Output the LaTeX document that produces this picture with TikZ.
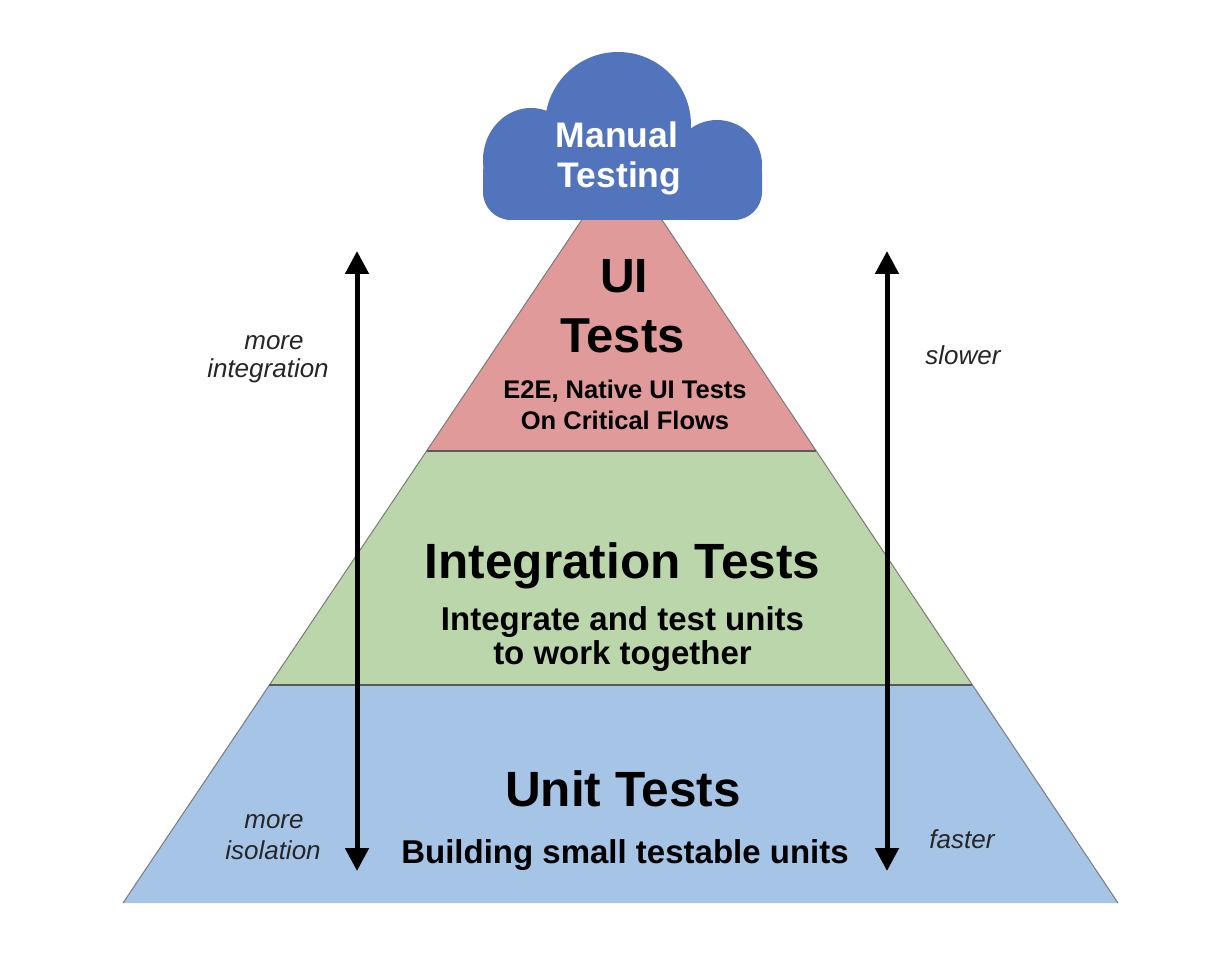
\documentclass[tikz,border=0pt]{standalone}
\usepackage{fontspec}
\setmainfont{Liberation Sans}
\usetikzlibrary{arrows.meta,calc}
\definecolor{cloudblue}{HTML}{5274BC}
\definecolor{uipink}{HTML}{E09A9A}
\definecolor{intgreen}{HTML}{BCD6AC}
\definecolor{unitblue}{HTML}{A6C4E6}
\definecolor{edgegray}{HTML}{5A5A5A}
\definecolor{labelgray}{HTML}{262626}
\tikzset{
  txt/.style={anchor=base,inner sep=0pt,outer sep=0pt,font=\bfseries\fontsize{#1}{#1}\selectfont},
  side/.style={anchor=base,inner sep=0pt,outer sep=0pt,text=labelgray,font=\itshape\fontsize{26}{26}\selectfont},
  bandline/.style={draw=edgegray,line width=1.6pt},
  edgeline/.style={draw=edgegray!80,line width=1pt},
  bigarrow/.style={line width=5pt,{Triangle[length=23pt,width=23pt]}-{Triangle[length=23pt,width=23pt]}}
}
\begin{document}
\begin{tikzpicture}[x=1pt,y=-1pt]
\useasboundingbox (0,0) rectangle (1232,960);
\fill[white] (0,0) rectangle (1232,960);
% pyramid corners
\coordinate (apex) at (622,160);
\coordinate (bl) at (123,903);
\coordinate (br) at (1118,903);
\coordinate (l1) at ($(apex)!0.3917!(bl)$);
\coordinate (r1) at ($(apex)!0.3917!(br)$);
\coordinate (l2) at ($(apex)!0.7066!(bl)$);
\coordinate (r2) at ($(apex)!0.7066!(br)$);
% bands
\fill[uipink] (apex) -- (l1) -- (r1) -- cycle;
\fill[intgreen] (l1) -- (l2) -- (r2) -- (r1) -- cycle;
\fill[unitblue] (l2) -- (bl) -- (br) -- (r2) -- cycle;
\draw[edgeline] (apex) -- (bl);
\draw[edgeline] (apex) -- (br);
\draw[bandline] (l1) -- (r1);
\draw[bandline] (l2) -- (r2);
% cloud
\fill[cloudblue] (618,125) circle[radius=73];
\fill[cloudblue] (531,160) ellipse[x radius=48,y radius=52];
\fill[cloudblue] (717,165) circle[radius=45];
\fill[cloudblue,rounded corners=28pt] (483,145) rectangle (762,220);
\node[txt=35.5,text=white] (man1) at (617,148) {Manual};
\node[txt=35.5,text=white] (man2) at (619.5,188) {Testing};
% UI band text
\node[txt=48] (ui1) at (624,292) {UI};
\node[txt=49] (ui2) at (622.5,352) {Tests};
\node[txt=25.5] (ui3) at (625,398) {E2E, Native UI Tests};
\node[txt=25.5] (ui4) at (625,429) {On Critical Flows};
% integration band
\node[txt=49.5] (it1) at (622.5,578) {Integration Tests};
\node[txt=33] (it2) at (622.5,630) {Integrate and test units};
\node[txt=33] (it3) at (622.5,664) {to work together};
% unit band
\node[txt=49.5] (un1) at (623,806) {Unit Tests};
\node[txt=33] (un2) at (625,863) {Building small testable units};
% arrows
\coordinate (la) at (357,251);
\coordinate (lb) at (357,871);
\coordinate (ra) at (887,251);
\coordinate (rb) at (887,871);
\draw[bigarrow] (la) -- (lb);
\draw[bigarrow] (ra) -- (rb);
% side labels
\node[side] (s1) at (274,349) {more};
\node[side] (s2) at (268,377) {integration};
\node[side] (s3) at (274,828) {more};
\node[side] (s4) at (273,859) {isolation};
\node[side] (s5) at (963,364) {slower};
\node[side] (s6) at (962,848) {faster};
\end{tikzpicture}
\end{document}
